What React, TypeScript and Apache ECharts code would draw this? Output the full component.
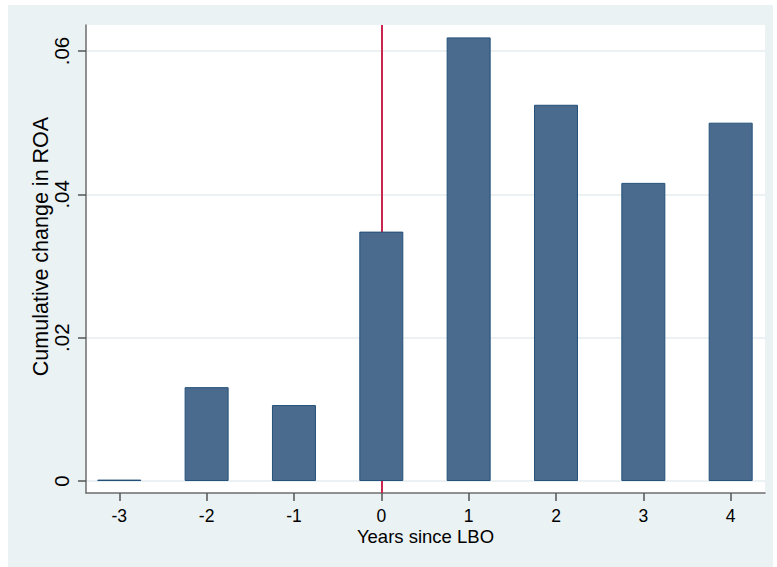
import React, { useEffect, useRef } from "react";
import * as echarts from "echarts";

const years = [-3, -2, -1, 0, 1, 2, 3, 4];
const roaChange = [0.0002, 0.0131, 0.0106, 0.0348, 0.0619, 0.0525, 0.0416, 0.05];
const yTickValues = [0, 0.02, 0.04, 0.06];
const yTickLabels = ["0", ".02", ".04", ".06"];
const lboYear = 0;
const xTitle = "Years since LBO";
const yTitle = "Cumulative change in ROA";

const FONT = 'Arial, "Liberation Sans", Helvetica, sans-serif';

export default function App() {
  const ref = useRef<HTMLDivElement>(null);
  useEffect(() => {
    if (!ref.current) return;
    const chart = echarts.init(ref.current, undefined, { renderer: "svg" });
    const labelMap: Record<string, string> = {};
    yTickValues.forEach((v, i) => (labelMap[String(v)] = yTickLabels[i]));
    chart.setOption({
      animation: false,
      backgroundColor: "#EAF2F3",
      grid: {
        left: 78,
        top: 20,
        right: 8,
        bottom: 74,
        show: true,
        backgroundColor: "#FFFFFF",
        borderWidth: 0,
      },
      xAxis: {
        type: "value",
        min: -3.381,
        max: 4.393,
        axisLine: { show: true, onZero: false, lineStyle: { color: "#6E6E6E", width: 1.5 } },
        axisTick: { show: true, length: 8, customValues: years, lineStyle: { color: "#555", width: 1.5 } },
        axisLabel: {
          customValues: years,
          color: "#000",
          fontSize: 17.5,
          fontFamily: FONT,
          margin: 14,
          formatter: (v: number) => String(v),
        },
        splitLine: { show: false },
      },
      yAxis: {
        type: "value",
        min: -0.00167,
        max: 0.06363,
        axisLine: { show: true, onZero: false, lineStyle: { color: "#6E6E6E", width: 1.5 } },
        axisTick: { show: true, length: 8, customValues: yTickValues, lineStyle: { color: "#555", width: 1.5 } },
        axisLabel: {
          customValues: yTickValues,
          rotate: 90,
          color: "#000",
          fontSize: 20.5,
          fontFamily: FONT,
          margin: 14,
          formatter: (v: number) => labelMap[String(v)] ?? String(v),
        },
        splitLine: { show: true, lineStyle: { color: "#E6EEF0", width: 1.5 } },
      },
      graphic: [
        {
          type: "text",
          x: 33,
          y: 241.5,
          rotation: Math.PI / 2,
          style: {
            text: yTitle,
            fill: "#000",
            font: `21.5px ${FONT}`,
            align: "center",
            verticalAlign: "middle",
          },
        },
        {
          type: "text",
          x: 417.5,
          y: 531,
          style: {
            text: xTitle,
            fill: "#000",
            font: `18.5px ${FONT}`,
            align: "center",
            verticalAlign: "middle",
          },
        },
      ],
      series: [
        {
          type: "bar",
          z: 3,
          barWidth: 44,
          data: years.map((y, i) => [y, roaChange[i]]),
          itemStyle: { color: "#4A6B8D", borderColor: "#24507A", borderWidth: 1 },
        },
        {
          type: "scatter",
          z: 1,
          data: [],
          markLine: {
            z: 1,
            silent: true,
            symbol: "none",
            label: { show: false },
            lineStyle: { color: "#C8264E", width: 2, type: "solid" },
            data: [{ xAxis: lboYear }],
          },
        },
      ],
    });
    return () => chart.dispose();
  }, []);
  return (
    <div style={{ position: "absolute", left: 0, top: 0, width: 777, height: 567, background: "#FFFFFF" }}>
      <div ref={ref} style={{ position: "absolute", left: 8, top: 5, width: 765, height: 562 }} />
    </div>
  );
}
